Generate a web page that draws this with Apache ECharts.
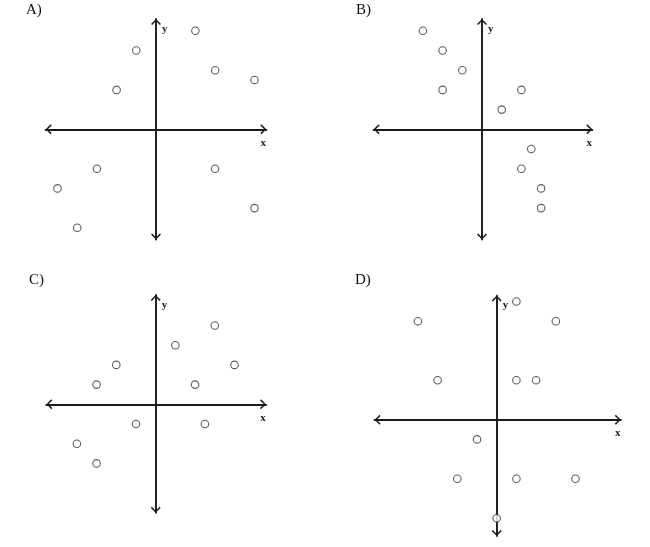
<!DOCTYPE html>
<html>
<head>
<meta charset="utf-8">
<script src="https://cdn.jsdelivr.net/npm/echarts@6/dist/echarts.min.js"></script>
<style>html,body{margin:0;padding:0;background:#fff;}#c{width:650px;height:547px;}</style>
</head>
<body>
<div id="c"></div>
<script>
// Panel labels
const panelLabels = ['A)', 'B)', 'C)', 'D)'];
const axisNames = ['x', 'y'];

// Panel A points
const aX = [-1, 2, 3, 5, -2, -3, -5, -4, 3, 5];
const aY = [4, 5, 3, 2.5, 2, -2, -3, -5, -2, -4];
// Panel B points
const bX = [-3, -2, -1, -2, 2, 1, 2.5, 2, 3, 3];
const bY = [5, 4, 3, 2, 2, 1, -1, -2, -3, -4];
// Panel C points
const cX = [3, 1, -2, 4, -3, 2, -1, 2.5, -4, -3];
const cY = [4, 3, 2, 2, 1, 1, -1, -1, -2, -3];
// Panel D points
const dX = [1, -4, 3, -3, 1, 2, -1, -2, 1, 4, 0];
const dY = [6, 5, 5, 2, 2, 2, -1, -3, -3, -3, -5];

const panelX = [aX, bX, cX, dX];
const panelY = [aY, bY, cY, dY];

// axis extents per panel (in data units)
const xRanges = [[-5.6, 5.6], [-5.5, 5.6], [-5.55, 5.6], [-6.2, 6.3]];
const yRanges = [[-5.6, 5.6], [-5.6, 5.6], [-5.5, 5.55], [-5.9, 6.3]];

// layout
const U = 19.7;
const origins = [[156, 129.3], [482, 129.3], [155.7, 404.3], [496.7, 419.7]];
const titlePos = [[26, 3], [356, 3], [29, 273], [355, 273]];

const chevron = 'path://M5,0 L10,5 L8.8,6 L5,2 L1.2,6 L0,5 Z';
const serif = 'Liberation Serif';

const grids = [], xAxes = [], yAxes = [], series = [], titles = [];
for (let i = 0; i < 4; i++) {
  const [ox, oy] = origins[i];
  const xr = xRanges[i], yr = yRanges[i];
  grids.push({
    left: ox + xr[0] * U,
    top: oy - yr[1] * U,
    width: (xr[1] - xr[0]) * U,
    height: (yr[1] - yr[0]) * U,
    containLabel: false,
    outerBoundsMode: 'none'
  });
  const axisLine = {
    show: true, onZero: true,
    symbol: [chevron, chevron],
    symbolSize: [10, 6],
    symbolOffset: [3, -3],
    lineStyle: { color: '#1a1a1a', width: 1.9 }
  };
  xAxes.push({
    type: 'value', gridIndex: i, min: xr[0], max: xr[1],
    axisLine: axisLine,
    axisTick: { show: false }, axisLabel: { show: false }, splitLine: { show: false },
    name: axisNames[0], nameLocation: 'end', nameGap: -3,
    nameTextStyle: { fontFamily: serif, fontSize: 11, fontWeight: 'bold', color: '#222',
      align: 'center', verticalAlign: 'top', padding: [8, 0, 0, 0] }
  });
  yAxes.push({
    type: 'value', gridIndex: i, min: yr[0], max: yr[1],
    axisLine: axisLine,
    axisTick: { show: false }, axisLabel: { show: false }, splitLine: { show: false },
    name: axisNames[1], nameLocation: 'end', nameGap: -10,
    nameTextStyle: { fontFamily: serif, fontSize: 11, fontWeight: 'bold', color: '#222',
      align: 'left', verticalAlign: 'middle', padding: [0, 0, 0, 6] }
  });
  series.push({
    type: 'scatter', xAxisIndex: i, yAxisIndex: i,
    data: panelX[i].map((x, k) => [x, panelY[i][k]]),
    symbol: 'circle', symbolSize: 7.5,
    itemStyle: { color: '#fff', borderColor: '#333', borderWidth: 1.1 },
    emphasis: { disabled: true },
    z: 3
  });
  titles.push({
    text: panelLabels[i], left: titlePos[i][0], top: titlePos[i][1], padding: 0,
    textStyle: { fontFamily: serif, fontSize: 15, fontWeight: 'normal', color: '#111' }
  });
}

const chart = echarts.init(document.getElementById('c'), null, { renderer: 'canvas' });
chart.setOption({
  animation: false,
  backgroundColor: '#fff',
  title: titles,
  grid: grids,
  xAxis: xAxes,
  yAxis: yAxes,
  series: series
});
</script>
</body>
</html>
